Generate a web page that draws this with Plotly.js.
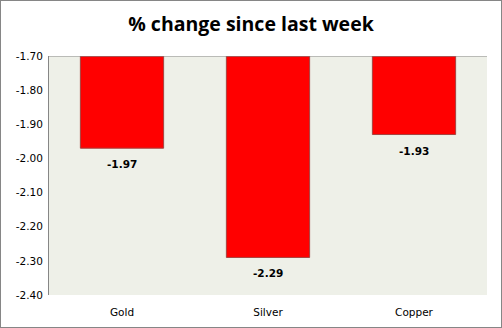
<!DOCTYPE html>
<html><head><meta charset="utf-8">
<script src="https://cdn.plot.ly/plotly-3.0.1.min.js"></script>
<style>
html,body{margin:0;padding:0;background:#fff;}
#wrap{position:relative;width:502px;height:328px;}
#chart{width:502px;height:328px;}
#frame{position:absolute;left:0;top:0;width:500px;height:326px;border:1px solid #868686;pointer-events:none;}
</style></head>
<body>
<div id="wrap"><div id="chart"></div><div id="frame"></div></div>
<script>
const categories = ["Gold", "Silver", "Copper"];
const values = [-1.97, -2.29, -1.93];
const axisTop = -1.70;
const axisBottom = -2.40;
const tickVals = [-2.40, -2.30, -2.20, -2.10, -2.00, -1.90, -1.80, -1.70];

const font = "DejaVu Sans, Verdana, sans-serif";

const trace = {
  type: "bar",
  x: categories,
  base: values.map(() => axisTop),
  y: values.map(v => v - axisTop),
  marker: {color: "#FF0000", line: {color: "#A5433F", width: 1}},
  width: 0.57,
  hoverinfo: "skip"
};

const labels = categories.map((c, i) => ({
  x: c, y: values[i], xref: "x", yref: "y",
  text: "<b>" + values[i].toFixed(2) + "</b>",
  showarrow: false, yanchor: "top", yshift: -8,
  font: {family: font, size: 10.5, color: "#000"}
}));

const layout = {
  width: 502, height: 328,
  margin: {l: 49, r: 15, t: 56, b: 33},
  paper_bgcolor: "#FFFFFF",
  plot_bgcolor: "#EEF0E8",
  showlegend: false,
  title: {text: "<b>% change since last week</b>", x: 0.5, xanchor: "center", y: 0.925, yanchor: "middle",
          font: {family: "Open Sans, sans-serif", size: 19.5, color: "#000"}},
  xaxis: {showgrid: false, showline: false, zeroline: false, ticks: "", ticklabelstandoff: 9,
          tickfont: {family: font, size: 10.5, color: "#000"}},
  yaxis: {range: [axisBottom, axisTop], tickvals: tickVals, ticktext: tickVals.map(v => v.toFixed(2)),
          showgrid: false, zeroline: false, showline: true, linecolor: "#868686", linewidth: 1,
          ticks: "", ticklen: 0, ticklabelstandoff: 3,
          tickfont: {family: font, size: 10.5, color: "#000"}},
  annotations: labels,
  shapes: [{type: "line", xref: "paper", yref: "y", x0: 0, x1: 1, y0: axisTop, y1: axisTop,
            line: {color: "#868686", width: 1}}]
};

Plotly.newPlot("chart", [trace], layout, {displayModeBar: false, staticPlot: true});
</script>
</body></html>
